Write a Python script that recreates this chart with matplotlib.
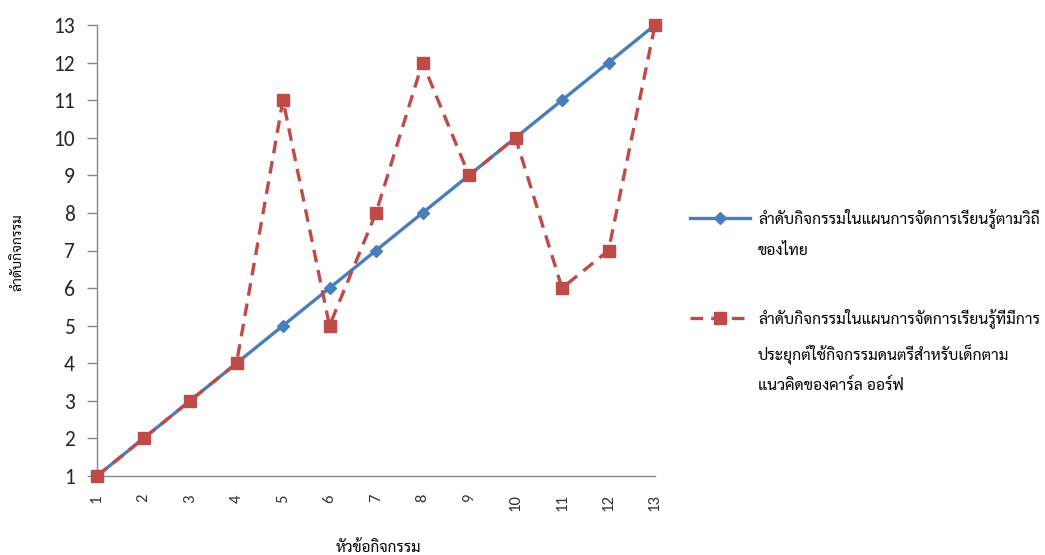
import matplotlib
matplotlib.use('Agg')
import matplotlib.pyplot as plt
from matplotlib.lines import Line2D

THAI = ['Sarabun', 'Noto Sans Thai Looped', 'Noto Sans Thai', 'DejaVu Sans']
NUM = ['Carlito', 'Lato', 'DejaVu Sans']

activities = list(range(1, 14))
thai_way = [1, 2, 3, 4, 5, 6, 7, 8, 9, 10, 11, 12, 13]
orff_way = [1, 2, 3, 4, 11, 5, 8, 12, 9, 10, 6, 7, 13]
label_thai = "ลำดับกิจกรรมในแผนการจัดการเรียนรู้ตามวิถี\nของไทย"
label_orff = ("ลำดับกิจกรรมในแผนการจัดการเรียนรู้ที่มีการ\n"
              "ประยุกต์ใช้กิจกรรมดนตรีสำหรับเด็กตาม\nแนวคิดของคาร์ล ออร์ฟ")
xlabel = "หัวข้อกิจกรรม"
ylabel = "ลำดับกิจกรรม"

blue = '#4A7EBB'
red = '#BE4B48'
axis_gray = '#868686'
LW = 2.4
DASH = (0, (3.8, 2.4))

fig = plt.figure(figsize=(10.45, 5.55), dpi=100)
ax = fig.add_axes([97/1045, 1-476/555, (655-97)/1045, (476-25)/555])

ax.plot(activities, thai_way, color=blue, lw=LW, marker='D', ms=6.5,
        mfc=blue, mec=blue, zorder=3, clip_on=False)
ax.plot(activities, orff_way, color=red, lw=LW, ls=DASH, marker='s', ms=9,
        mfc=red, mec=red, zorder=4, clip_on=False)

ax.set_xlim(1, 13)
ax.set_ylim(1, 13)
ax.set_xticks(activities)
ax.set_xticklabels([str(a) for a in activities], rotation=90, family=NUM, fontsize=12,
                   color='#333333')
ax.set_yticks(range(1, 14))
ax.set_yticklabels([str(v) for v in range(1, 14)], family=NUM, fontsize=15.5,
                   color='#262626')
ax.tick_params(axis='x', length=0, pad=13)
ax.tick_params(axis='y', length=7, width=1, color=axis_gray, pad=9)
for s in ['top', 'right']:
    ax.spines[s].set_visible(False)
for s in ['left', 'bottom']:
    ax.spines[s].set_color(axis_gray)
    ax.spines[s].set_linewidth(1)

fig.text(18/1045, 1-252/555, ylabel, rotation=90, ha='center', va='center',
         family=THAI, fontsize=10)
fig.text(378/1045, 1-548/555, xlabel, ha='center', va='center',
         family=THAI, fontsize=11)

# legend (manual, handles aligned to first text line)
def key(y, color, ls, marker, ms):
    yy = 1 - y/555
    fig.add_artist(Line2D([690/1045, 750/1045], [yy, yy], transform=fig.transFigure,
                          color=color, lw=LW, ls=ls))
    fig.add_artist(Line2D([720/1045], [yy], transform=fig.transFigure, color=color,
                          marker=marker, ms=ms, mfc=color, mec=color, ls='none'))

key(218, blue, '-', 'D', 6.5)
key(318, red, DASH, 's', 9)
fig.text(758/1045, 1-208/555, label_thai, ha='left', va='top', family=THAI,
         fontsize=11.3, linespacing=2.25)
fig.text(758/1045, 1-308/555, label_orff, ha='left', va='top', family=THAI,
         fontsize=11.3, linespacing=2.05)

fig.savefig('out.png', dpi=100)
